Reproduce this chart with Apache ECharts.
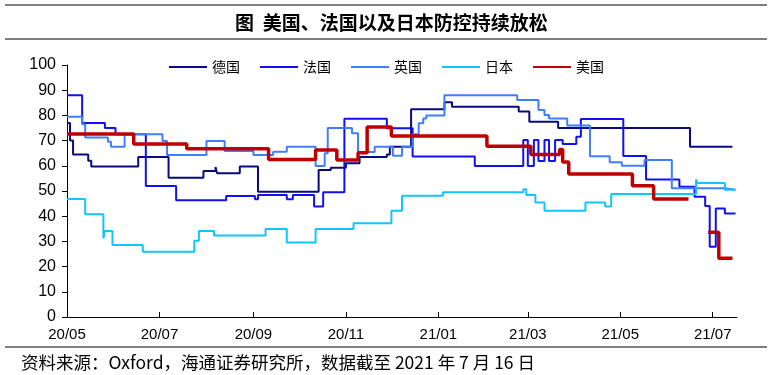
<!DOCTYPE html>
<html><head><meta charset="utf-8">
<script src="https://cdn.jsdelivr.net/npm/echarts@6/dist/echarts.min.js"></script>
<style>html,body{margin:0;padding:0;background:#fff}#c{width:772px;height:375px}</style>
</head><body><div id="c"></div>
<script>
const seriesNames = ['德国', '法国', '英国', '日本', '美国'];
const tickDates = ['2020-05-01','2020-07-01','2020-09-01','2020-11-01','2021-01-01','2021-03-01','2021-05-01','2021-07-01'];
const axisStart = '2020-05-01';
const axisEnd = '2021-07-17';

const germany = [['2020-05-01',77],['2020-05-03',70],['2020-05-05',64.5],['2020-05-15',62],['2020-05-17',59.7],['2020-06-17',63.5],['2020-07-07',55.3],['2020-07-30',57.9],['2020-08-07',59.5],['2020-08-08',57],['2020-08-23',59.7],['2020-09-04',49.7],['2020-10-14',58.3],['2020-10-22',59.2],['2020-11-01',61],['2020-11-10',63.5],['2020-11-28',64.5],['2020-11-30',67.6],['2020-12-14',82.4],['2021-01-05',85.2],['2021-01-10',83.4],['2021-02-23',81.5],['2021-03-02',77.5],['2021-03-21',75],['2021-06-16',67.6],['2021-07-14',67.6]];

const france = [['2020-05-01',88],['2020-05-11',77],['2020-05-26',75],['2020-06-02',72.5],['2020-06-22',52],['2020-07-12',46.3],['2020-08-14',48],['2020-09-02',46.7],['2020-09-04',48.4],['2020-09-23',46.7],['2020-09-27',48.4],['2020-10-11',43.8],['2020-10-17',49.5],['2020-10-31',78.7],['2020-11-28',74.9],['2020-12-15',63.7],['2021-01-25',59.9],['2021-02-26',70.2],['2021-03-01',59.9],['2021-03-05',70.2],['2021-03-08',61.9],['2021-03-12',70.2],['2021-03-15',61.9],['2021-03-19',70.2],['2021-03-24',68.7],['2021-04-02',71.5],['2021-04-05',78.6],['2021-05-03',63.9],['2021-05-18',54.6],['2021-06-09',51.7],['2021-06-19',47.7],['2021-06-26',44],['2021-06-29',27.9],['2021-07-03',43.1],['2021-07-09',41.1],['2021-07-16',41.1]];

const uk = [['2020-05-01',79.5],['2020-05-11',76.5],['2020-05-13',71.2],['2020-05-28',69.5],['2020-05-30',67.6],['2020-06-08',72.5],['2020-07-03',69.8],['2020-07-06',64.3],['2020-08-01',69.8],['2020-08-13',65.9],['2020-09-01',64.3],['2020-09-14',65.6],['2020-09-23',67.6],['2020-10-12',59.9],['2020-10-18',65],['2020-10-20',75],['2020-11-05',72.9],['2020-11-09',65.5],['2020-11-20',67.6],['2020-12-02',64],['2020-12-08',67.6],['2020-12-15',72.5],['2020-12-19',76.9],['2020-12-22',78.8],['2020-12-24',80],['2021-01-05',88],['2021-02-22',86.1],['2021-03-08',82.1],['2021-03-12',80.2],['2021-03-15',78.8],['2021-03-27',76],['2021-04-11',63.8],['2021-04-24',61.4],['2021-05-02',60],['2021-05-17',62.3],['2021-06-04',51.1],['2021-07-09',50.5],['2021-07-16',50.5]];

const japan = [['2020-05-01',46.8],['2020-05-13',40.8],['2020-05-25',31.2],['2020-05-26',34.1],['2020-05-31',28.6],['2020-06-20',25.9],['2020-07-24',30.3],['2020-07-27',34.1],['2020-08-06',32.3],['2020-09-09',34.9],['2020-09-23',29.6],['2020-10-12',34.9],['2020-11-06',37.2],['2020-12-01',42.2],['2020-12-08',48.1],['2021-01-04',49.5],['2021-02-26',50.7],['2021-02-28',48.4],['2021-03-06',45.4],['2021-03-12',42.2],['2021-04-08',45.4],['2021-04-21',43.8],['2021-04-25',48.8],['2021-06-20',54.6],['2021-06-21',53.2],['2021-07-09',50.5],['2021-07-16',50.5]];

const usa = [['2020-05-01',72.6],['2020-06-14',68.7],['2020-07-19',66.8],['2020-09-11',62.5],['2020-10-12',66.3],['2020-10-26',62.3],['2020-11-09',65.2],['2020-11-15',75.4],['2020-12-01',71.8],['2021-02-02',67.8],['2021-03-03',64.5],['2021-03-22',66.5],['2021-03-24',61.5],['2021-03-28',56.7],['2021-05-09',52.1],['2021-05-23',46.8],['2021-06-14',46.8],['2021-06-15',null],['2021-06-28',33.6],['2021-07-05',23.3],['2021-07-14',23.3]];

const colors = ['#0a0a80', '#1010f0', '#3f7fff', '#12c4ff', '#c00000'];
const widths = [2, 2, 2, 2, 3.5];
const allData = [germany, france, uk, japan, usa];

const toPts = arr => arr.map(([d, v]) => [Date.parse(d), v]);
const fmt = v => { const d = new Date(v); return String(d.getUTCFullYear()).slice(2) + '/' + String(d.getUTCMonth() + 1).padStart(2, '0'); };
const tickVals = tickDates.map(d => Date.parse(d));
const font = 'Liberation Sans, Arial, sans-serif';
const cjk = 'Noto Sans CJK SC, sans-serif';

const chart = echarts.init(document.getElementById('c'));
chart.setOption({
  animation: false,
  backgroundColor: '#fff',
  title: [
    { text: '图  美国、法国以及日本防控持续放松', left: 230, top: 8, textStyle: { fontFamily: cjk, fontSize: 19, fontWeight: 'bold', color: '#000' } },
    { text: '资料来源：Oxford，海通证券研究所，数据截至 2021 年 7 月 16 日', left: 16, top: 349, textStyle: { fontFamily: cjk, fontSize: 17.5, fontWeight: 'normal', color: '#000' } }
  ],
  graphic: [
    { type: 'line', shape: { x1: 5, y1: 5, x2: 767, y2: 5 }, style: { stroke: '#000', lineWidth: 1.2 } },
    { type: 'line', shape: { x1: 5, y1: 39, x2: 767, y2: 39 }, style: { stroke: '#000', lineWidth: 1.2 } },
    { type: 'line', shape: { x1: 5, y1: 347, x2: 767, y2: 347 }, style: { stroke: '#000', lineWidth: 1.2 } }
  ],
  legend: {
    top: 55, left: 'center', itemWidth: 38, itemHeight: 14, itemGap: 19,
    itemStyle: { opacity: 0 },
    textStyle: { fontFamily: cjk, fontSize: 14, color: '#000' },
    data: seriesNames
  },
  grid: { left: 67, right: 35, top: 65, bottom: 58 },
  xAxis: {
    type: 'value', min: Date.parse(axisStart), max: Date.parse(axisEnd),
    axisLine: { lineStyle: { color: '#000', width: 1 } },
    axisTick: { inside: true, length: 5, customValues: tickVals, lineStyle: { color: '#000' } },
    axisLabel: { customValues: tickVals, formatter: fmt, fontFamily: font, fontSize: 15, color: '#000', margin: 10 },
    splitLine: { show: false }
  },
  yAxis: {
    type: 'value', min: 0, max: 100, interval: 10,
    axisLine: { show: true, lineStyle: { color: '#000', width: 1 } },
    axisTick: { show: true, length: 5, lineStyle: { color: '#000' } },
    axisLabel: { fontFamily: font, fontSize: 16, color: '#000', margin: 11 },
    splitLine: { show: false }
  },
  series: seriesNames.map((name, i) => ({
    name, type: 'line', step: 'end', symbol: 'none', connectNulls: false,
    data: toPts(allData[i]),
    lineStyle: { color: colors[i], width: widths[i] },
    itemStyle: { color: colors[i] },
    z: 2 + i
  }))
});
</script></body></html>
